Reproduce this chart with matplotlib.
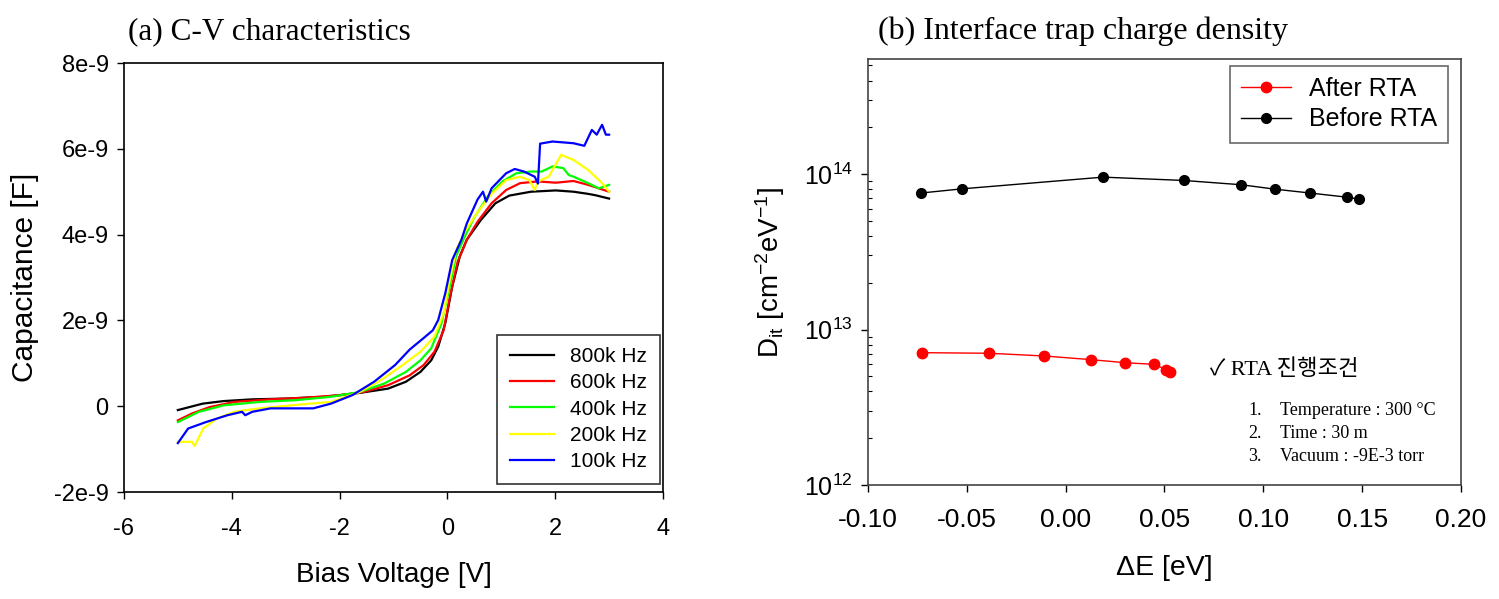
import matplotlib
matplotlib.use('Agg')
import matplotlib.pyplot as plt
from matplotlib.ticker import FixedLocator, LogLocator, NullFormatter

plt.rcParams['font.family'] = ['Liberation Sans', 'DejaVu Sans']
plt.rcParams['axes.unicode_minus'] = False
plt.rcParams['mathtext.fontset'] = 'custom'
plt.rcParams['mathtext.rm'] = 'Liberation Sans'
plt.rcParams['mathtext.it'] = 'Liberation Sans'

# (a) C-V curves, capacitance in units of 1e-9 F
v_800k = [-5.0, -4.54, -4.15, -3.62, -2.95, -2.29, -1.63, -1.10, -0.77, -0.50, -0.30, -0.17, -0.04,
          0.09, 0.23, 0.36, 0.62, 0.89, 1.15, 1.55, 2.01, 2.34, 2.61, 2.74, 3.0]
c_800k = [-0.09, 0.06, 0.12, 0.16, 0.18, 0.22, 0.31, 0.41, 0.57, 0.80, 1.07, 1.39, 1.93,
          2.79, 3.49, 3.88, 4.34, 4.73, 4.91, 5.00, 5.03, 5.00, 4.95, 4.92, 4.84]

v_600k = [-5.0, -4.74, -4.41, -3.95, -3.28, -2.62, -1.96, -1.56, -1.10, -0.70, -0.44, -0.24, -0.07,
          0.06, 0.19, 0.36, 0.56, 0.82, 1.09, 1.35, 1.68, 2.01, 2.34, 2.61, 3.0]
c_600k = [-0.33, -0.17, -0.02, 0.10, 0.16, 0.20, 0.26, 0.33, 0.49, 0.72, 0.96, 1.27, 1.77,
          2.63, 3.37, 3.88, 4.30, 4.73, 5.04, 5.20, 5.24, 5.21, 5.25, 5.16, 5.00]

v_400k = [-5.0, -4.61, -4.15, -3.48, -2.82, -2.16, -1.63, -1.17, -0.77, -0.50, -0.30, -0.11, 0.03,
          0.16, 0.32, 0.49, 0.75, 1.02, 1.28, 1.55, 1.75, 1.95, 2.15, 2.25, 2.34, 2.61, 2.81, 3.0]
c_400k = [-0.37, -0.13, 0.02, 0.10, 0.14, 0.22, 0.33, 0.53, 0.80, 1.07, 1.35, 1.93, 2.71,
          3.49, 3.95, 4.38, 4.89, 5.24, 5.43, 5.47, 5.47, 5.59, 5.55, 5.39, 5.35, 5.20, 5.08, 5.16]

v_200k = [-5.0, -4.74, -4.69, -4.53, -4.28, -3.95, -3.48, -2.82, -2.16, -1.63, -1.23, -0.83, -0.50,
          -0.24, -0.07, 0.03, 0.16, 0.32, 0.56, 0.82, 1.09, 1.35, 1.52, 1.62, 1.68, 1.88, 2.11,
          2.34, 2.61, 2.87, 3.0]
c_200k = [-0.83, -0.83, -0.93, -0.52, -0.29, -0.13, -0.05, 0.03, 0.10, 0.33, 0.61, 0.96, 1.27,
          1.62, 2.16, 2.86, 3.63, 4.06, 4.52, 4.95, 5.27, 5.35, 5.27, 5.04, 5.24, 5.35, 5.86,
          5.74, 5.51, 5.20, 5.00]

v_100k = [-5.0, -4.81, -4.48, -4.08, -3.81, -3.75, -3.62, -3.28, -2.49, -2.16, -1.76, -1.36, -0.97,
          -0.70, -0.44, -0.27, -0.17, -0.04, 0.09, 0.26, 0.36, 0.56, 0.66, 0.72, 0.82, 1.09, 1.25,
          1.42, 1.62, 1.68, 1.72, 1.95, 2.34, 2.54, 2.68, 2.77, 2.87, 2.94, 3.0]
c_100k = [-0.86, -0.52, -0.37, -0.21, -0.13, -0.21, -0.13, -0.05, -0.05, 0.06, 0.26, 0.57, 0.96,
          1.32, 1.59, 1.77, 2.01, 2.63, 3.41, 3.88, 4.26, 4.82, 5.00, 4.77, 5.08, 5.43, 5.53,
          5.47, 5.35, 5.19, 6.12, 6.17, 6.13, 6.07, 6.44, 6.33, 6.56, 6.33, 6.33]

cv_labels = ['800k Hz', '600k Hz', '400k Hz', '200k Hz', '100k Hz']
cv_colors = ['black', '#ff0000', '#00ff00', '#ffff00', '#0000ff']

# (b) interface trap density
de_after = [-0.0724, -0.0389, -0.0107, 0.0130, 0.0302, 0.0448, 0.0510, 0.0530]
dit_after = [7.1e12, 7.04e12, 6.76e12, 6.4e12, 6.12e12, 5.97e12, 5.52e12, 5.33e12]
de_before = [-0.0734, -0.0523, 0.0190, 0.0598, 0.0889, 0.1059, 0.1239, 0.1425, 0.1483]
dit_before = [7.55e13, 8.04e13, 9.56e13, 9.1e13, 8.54e13, 8.0e13, 7.55e13, 7.1e13, 6.9e13]

serif = ['Liberation Serif', 'DejaVu Serif']

fig = plt.figure(figsize=(14.99, 5.99), dpi=100)

# ---- (a)
ax1 = fig.add_axes([0.0827, 0.1786, 0.3596, 0.7162])
series = [(v_800k, c_800k), (v_600k, c_600k), (v_400k, c_400k), (v_200k, c_200k), (v_100k, c_100k)]
for (v, c), lab, col in zip(series, cv_labels, cv_colors):
    ax1.plot(v, [x * 1e-9 for x in c], color=col, lw=1.6, label=lab)
ax1.set_xlim(-6, 4)
ax1.set_ylim(-2e-9, 8e-9)
ax1.set_xticks([-6, -4, -2, 0, 2, 4])
ax1.set_yticks([-2e-9, 0, 2e-9, 4e-9, 6e-9, 8e-9])
ax1.set_yticklabels(['-2e-9', '0', '2e-9', '4e-9', '6e-9', '8e-9'])
ax1.tick_params(direction='out', length=5, width=1, labelsize=17)
ax1.tick_params(axis='x', pad=14)
ax1.tick_params(axis='y', pad=6)
for s in ax1.spines.values():
    s.set_linewidth(1.2)
ax1.set_xlabel('Bias Voltage [V]', fontsize=20)
ax1.xaxis.set_label_coords(0.5, -0.193)
ax1.xaxis.label.set_va('center')
ax1.set_ylabel('Capacitance [F]', fontsize=21.5)
ax1.yaxis.set_label_coords(-0.184, 0.5)
ax1.yaxis.label.set_va('center')
leg1 = ax1.legend(loc='lower right', bbox_to_anchor=(0.994, 0.019), fontsize=15,
                  frameon=True, fancybox=False, edgecolor='black', handlelength=2.1,
                  borderpad=0.6, labelspacing=0.35, borderaxespad=0)
leg1.get_frame().set_linewidth(1.2)

fig.text(0.0854, 0.947, '(a) C-V characteristics', fontsize=22.5,
         family=serif, va='center', ha='left')

# ---- (b)
ax2 = fig.add_axes([0.579, 0.1903, 0.3956, 0.7112])
ax2.plot(de_after, dit_after, color='#ff0000', lw=1, marker='o', ms=7.5,
         mfc='#ff0000', mec='#ff0000', label='After RTA')
ax2.plot(de_before, dit_before, color='black', lw=1, marker='o', ms=7,
         mfc='black', mec='black', label='Before RTA')
ax2.set_yscale('log')
ax2.set_xlim(-0.10, 0.20)
ax2.set_ylim(1e12, 5.5e14)
ax2.set_xticks([-0.10, -0.05, 0.00, 0.05, 0.10, 0.15, 0.20])
ax2.set_xticklabels(['-0.10', '-0.05', '0.00', '0.05', '0.10', '0.15', '0.20'])
ax2.yaxis.set_major_locator(FixedLocator([1e12, 1e13, 1e14]))
ax2.yaxis.set_minor_locator(LogLocator(base=10, subs=range(2, 10)))
ax2.yaxis.set_minor_formatter(NullFormatter())
ax2.tick_params(which='major', direction='out', length=5, width=1)
ax2.tick_params(axis='x', which='major', labelsize=19, pad=11.5)
ax2.tick_params(axis='y', which='major', labelsize=18, pad=6)
ax2.tick_params(which='minor', axis='y', direction='in', length=3, width=0.8)
for s in ax2.spines.values():
    s.set_linewidth(1.2)
    s.set_color('#444444')
ax2.set_xlabel('ΔE [eV]', fontsize=20.5)
ax2.xaxis.set_label_coords(0.5, -0.195)
ax2.xaxis.label.set_va('center')
ax2.set_ylabel('D$_{it}$ [cm$^{-2}$eV$^{-1}$]', fontsize=20)
ax2.yaxis.set_label_coords(-0.165, 0.5)
ax2.yaxis.label.set_va('center')
leg2 = ax2.legend(loc='upper right', bbox_to_anchor=(0.978, 0.984), fontsize=18,
                  frameon=True, fancybox=False, edgecolor='#444444', handlelength=2.0,
                  borderpad=0.45, labelspacing=0.25, borderaxespad=0, handletextpad=0.7)
leg2.get_frame().set_linewidth(1.2)

ax2.text(0.577, 0.27, '✓ RTA 진행조건', transform=ax2.transAxes, fontsize=16,
         family=['Liberation Serif', 'Noto Sans CJK KR', 'DejaVu Sans'], va='center', ha='left')
conds = ['Temperature : 300 °C', 'Time : 30 m', 'Vacuum : -9E-3 torr']
for i, (t, yy) in enumerate(zip(conds, [0.176, 0.122, 0.066])):
    ax2.text(0.641, yy, f'{i + 1}.', transform=ax2.transAxes, fontsize=13,
             family=serif, va='center', ha='left')
    ax2.text(0.695, yy, t, transform=ax2.transAxes, fontsize=13,
             family=serif, va='center', ha='left')

fig.text(0.5857, 0.947, '(b) Interface trap charge density', fontsize=23,
         family=serif, va='center', ha='left')

fig.savefig('out.png', dpi=100)
